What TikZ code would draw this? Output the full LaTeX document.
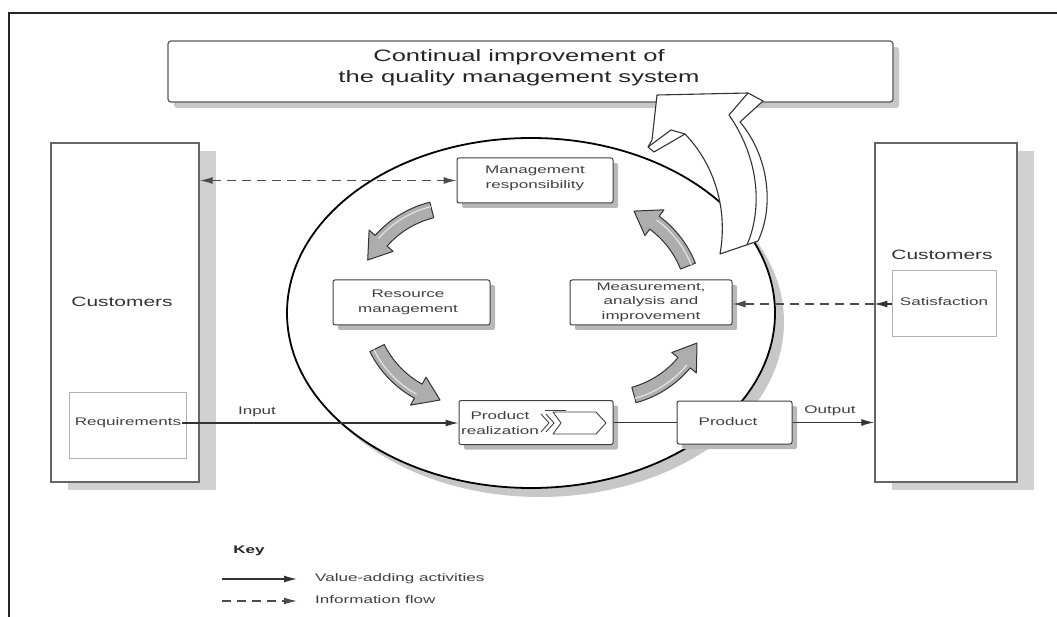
\documentclass[tikz,border=0pt]{standalone}
\usepackage{fontspec}
\setmainfont{Liberation Sans}
\usepackage{graphicx}
\usetikzlibrary{arrows.meta,shadows}
\newcommand{\stx}[1]{\scalebox{1.55}[1]{\begin{tabular}{@{}c@{}}#1\end{tabular}}}
\newcommand{\ftitle}{\fontsize{16.5}{21}\selectfont}
\newcommand{\fcust}{\fontsize{13.5}{16}\selectfont}
\newcommand{\fsm}{\fontsize{11}{14.5}\selectfont}
\newcommand{\garrow}[5]{%
  \pgfmathsetmacro\gaB{#5+13.5}%
  \pgfmathsetmacro\gaO{#3+8}%
  \pgfmathsetmacro\gaI{#3-8}%
  \pgfmathsetmacro\gaHO{#3+16}%
  \pgfmathsetmacro\gaHI{#3-16}%
  \pgfmathsetmacro\gaM{#3+3.5}%
  \begin{scope}[shift={(#1,#2)}]
    \filldraw[garrowst] plot[domain=#4:\gaB, samples=14] ({\gaO*cos(\x)},{\gaO*sin(\x)})
      -- ({\gaHO*cos(\gaB)},{\gaHO*sin(\gaB)}) -- ({#3*cos(#5)},{#3*sin(#5)})
      -- ({\gaHI*cos(\gaB)},{\gaHI*sin(\gaB)})
      -- plot[domain=\gaB:#4, samples=14] ({\gaI*cos(\x)},{\gaI*sin(\x)}) -- cycle;
    \draw[black!12, line width=1.3pt] plot[domain=#4:\gaB, samples=14] ({\gaM*cos(\x)},{\gaM*sin(\x)});
  \end{scope}}
\begin{document}
\begin{tikzpicture}[x=1pt,y=-1pt,
  pbox/.style={draw=black!75, line width=1pt, fill=white, rounded corners=2pt, inner sep=0pt,
    drop shadow={shadow xshift=5pt, shadow yshift=-5pt, fill=black!28, opacity=1}},
  tbox/.style={draw=black!65, line width=1.2pt, fill=white, rounded corners=3pt, inner sep=0pt,
    drop shadow={shadow xshift=6pt, shadow yshift=-6pt, fill=black!22, opacity=1}},
  cbox/.style={draw=black!60, line width=1.4pt, fill=white, inner sep=0pt,
    drop shadow={shadow xshift=17pt, shadow yshift=-8pt, fill=black!18, opacity=1}},
  gbox/.style={draw=black!30, line width=1pt, fill=white, inner sep=0pt},
  txt/.style={text=black!75, font=\fsm, inner sep=1pt},
  ctxt/.style={text=black!80, font=\fcust, inner sep=1pt},
  garrowst/.style={fill=black!32, draw=black!80, line width=1pt, line join=round},
  bigarrow/.style={fill=white, draw=black!80, line width=1.1pt, line join=round},
  vline/.style={draw=black!80, line width=1.3pt},
  dline/.style={draw=black!70, line width=1.3pt, dash pattern=on 9pt off 6pt},
  tip/.style={-{Latex[length=13pt,width=7pt]}}
]
\useasboundingbox (0,0) rectangle (1057,617);
\fill[white] (0,0) rectangle (1057,617);
% frame
\draw[black!85, line width=2pt] (9,617) -- (9,13) -- (1057,13);

% title box
\node[tbox, minimum width=725pt, minimum height=61pt] (title) at (530.5,71.5) {};

% ellipse with shadow
\fill[black!22] (540,322) ellipse[x radius=244, y radius=175];
\draw[black, line width=1.8pt, fill=white] (531,313) ellipse[x radius=244, y radius=175];

% big continual improvement arrow
\filldraw[bigarrow] (657,95) -- (748,93) -- (763,101) -- (740,122)
  .. controls (768,155) and (775,205) .. (758,241) -- (720,254)
  .. controls (728,210) and (715,165) .. (685,134) -- (654,152) -- (648,147) -- (652,140) -- cycle;
\draw[black!80, line width=1.1pt, line join=round] (748,93) -- (729,115)
  .. controls (757,155) and (764,205) .. (747,245);
\draw[black!80, line width=1.1pt] (648,147) -- (671,130) -- (685,134);

\node[text=black!85, font=\ftitle, inner sep=0pt] (titletext) at (519,67.5)
  {\stx{Continual improvement of\\the quality management system}};

% customers boxes
\node[cbox, minimum width=148pt, minimum height=339pt] (lcust) at (125,312.5) {};
\node[cbox, minimum width=142pt, minimum height=339pt] (rcust) at (946,312.5) {};
\node[ctxt] (lcusttext) at (122,303) {\stx{Customers}};
\node[ctxt] (rcusttext) at (942,256) {\stx{Customers}};
\node[gbox, minimum width=117pt, minimum height=66pt] (req) at (127.5,425) {};
\node[txt] (reqtext) at (128,423) {\stx{Requirements}};
\node[gbox, minimum width=104pt, minimum height=66pt] (sat) at (944,304) {};
\node[txt] (sattext) at (944,303) {\stx{Satisfaction}};

% process boxes
\node[pbox, minimum width=156pt, minimum height=45pt] (mgmt) at (535,180.5) {};
\node[txt] (mgmttext) at (535,178) {\stx{Management\\responsibility}};
\node[pbox, minimum width=157pt, minimum height=45pt] (res) at (411.5,302.5) {};
\node[txt] (restext) at (408,302) {\stx{Resource\\management}};
\node[pbox, minimum width=162pt, minimum height=45pt] (meas) at (651,302.5) {};
\node[txt] (meastext) at (651,302) {\stx{Measurement,\\analysis and\\improvement}};
\node[pbox, minimum width=154pt, minimum height=44pt] (pr) at (536,422.5) {};
\node[txt] (prtext) at (500,424) {\stx{Product\\realization}};
\node[pbox, minimum width=115pt, minimum height=43pt] (prod) at (734.5,422.5) {};
\node[txt] (prodtext) at (728,423) {\stx{Product}};

% process symbol inside product realization
\draw[black!75, line width=0.9pt, line join=round]
  (553,412) -- (596,412) -- (606,423) -- (596,434) -- (553,434) -- (561,423) -- cycle;
\draw[black!75, line width=0.9pt] (541,414) -- (549,423) -- (541,432);
\draw[black!75, line width=0.9pt] (546,414) -- (554,423) -- (546,432);
\draw[black!75, line width=0.9pt] (545,410) -- (566,410);

% cycle arrows
\garrow{456}{307}{100}{256}{208}
\garrow{466.6}{303.6}{100}{153.6}{105.4}
\garrow{607.4}{298.6}{100}{74.6}{26.4}
\garrow{595.1}{303.2}{100}{-21.8}{-67.1}

% connectors
\draw[vline, tip] (reqtext.east) -- (reqtext.east -| pr.west);
\node[txt] (inputlbl) at (257,412) {\stx{Input}};
\draw[vline] (pr.east) -- (prod.west);
\draw[vline, tip] (prod.east) -- (prod.east -| rcust.west);
\node[txt] (outputlbl) at (830,411) {\stx{Output}};
\draw[dline, {Latex[length=13pt,width=7pt]}-{Latex[length=13pt,width=7pt]}] (lcust.east |- mgmt.west) -- (mgmt.west);
\coordinate (redge) at (rcust.west |- sat.west);
\draw[vline, tip] (sat.west) -- (redge);
\draw[dline, tip] (redge) -- (redge -| meas.east);

% key
\node[txt, font=\fsm\bfseries, text=black!85] (key) at (249,551) {\stx{Key}};
\coordinate (k1a) at (222,579);
\coordinate (k1b) at (297,579);
\coordinate (k2a) at (222,601);
\coordinate (k2b) at (297,601);
\draw[vline, tip] (k1a) -- (k1b);
\draw[dline, tip] (k2a) -- (k2b);
\node[txt, anchor=west] (k1text) at (314,579) {\stx{Value-adding activities}};
\node[txt, anchor=west] (k2text) at (314,601) {\stx{Information flow}};
\end{tikzpicture}
\end{document}
